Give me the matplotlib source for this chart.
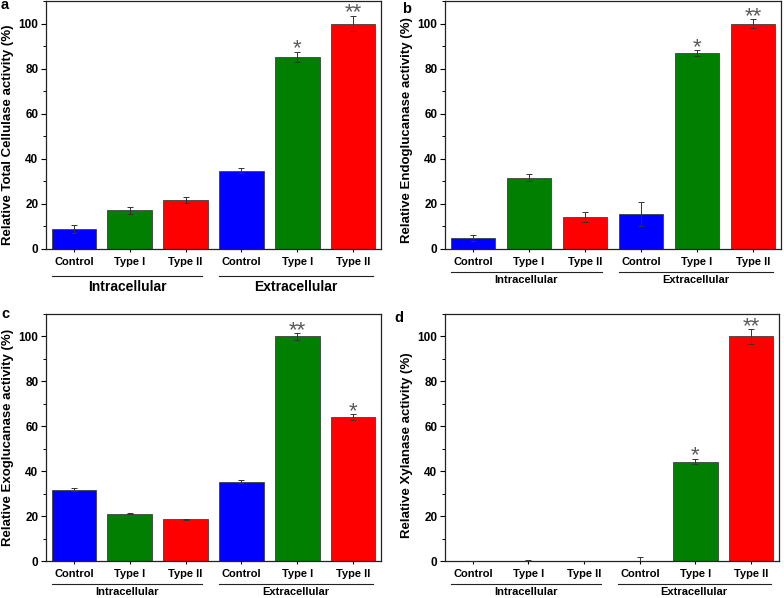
import matplotlib
matplotlib.use("Agg")
import matplotlib.pyplot as plt
from matplotlib.ticker import MultipleLocator
import matplotlib.transforms as mtrans

plt.rcParams['font.family'] = ['Liberation Sans', 'DejaVu Sans']
plt.rcParams['font.weight'] = 'bold'

categories = ["Control", "Type I", "Type II", "Control", "Type I", "Type II"]
groups = ["Intracellular", "Extracellular"]
colors = ["#0000FF", "#007F00", "#FF0000", "#0000FF", "#007F00", "#FF0000"]

total_vals = [8.9, 17.2, 21.8, 34.8, 85.3, 100.0]
total_err = [1.6, 1.5, 1.3, 1.1, 2.3, 3.5]
total_stars = ["", "", "", "", "*", "**"]

endo_vals = [4.7, 31.7, 14.2, 15.6, 86.8, 100.0]
endo_err = [1.3, 1.6, 2.4, 5.4, 1.3, 1.8]
endo_stars = ["", "", "", "", "*", "**"]

exo_vals = [31.8, 21.1, 18.6, 35.4, 100.0, 64.2]
exo_err = [0.5, 0.3, 0.2, 0.5, 1.5, 1.2]
exo_stars = ["", "", "", "", "**", "*"]

xyl_vals = [0.0, 0.2, 0.0, 0.0, 44.3, 100.0]
xyl_err = [0.2, 0.2, 0.0, 1.7, 1.2, 3.2]
xyl_stars = ["", "", "", "", "*", "**"]

# letter, ylabel, data, axes box (px l,t,r,b), group font, line offset, group label offset,
# ylabel centre (axes fraction), letter position (px x, baseline y)
panels = [
    ("a", "Relative Total Cellulase activity (%)", total_vals, total_err, total_stars,
     (46, 1, 381, 249), 10, 27, 38, 0.46, (1, 9)),
    ("b", "Relative Endoglucanase activity (%)", endo_vals, endo_err, endo_stars,
     (445, 1, 781, 249), 8, 23, 31, 0.48, (402, 13)),
    ("c", "Relative Exoglucanase activity (%)", exo_vals, exo_err, exo_stars,
     (46, 314, 381, 561), 8, 23, 31, 0.50, (1, 318)),
    ("d", "Relative Xylanase activity (%)", xyl_vals, xyl_err, xyl_stars,
     (445, 314, 779, 561), 8, 23, 31, 0.47, (394, 322)),
]

W, H = 784, 598
fig = plt.figure(figsize=(W / 100, H / 100), dpi=100)

for (letter, ylabel, vals, errs, stars, (l, t, r, b), gfs, line_off, glab_off,
     ylab_y, (lx, ly)) in panels:
    ax = fig.add_axes([l / W, (H - b) / H, (r - l) / W, (b - t) / H])
    x = list(range(len(categories)))
    ax.bar(x, vals, width=0.8, color=colors, edgecolor="#404040", linewidth=0.6, zorder=2)
    ax.errorbar(x, vals, yerr=errs, fmt="none", ecolor="#333333", elinewidth=0.7,
                capsize=2.5, capthick=0.7, zorder=3)
    for xi, v, e, s in zip(x, vals, errs, stars):
        if s:
            ax.annotate(s, xy=(xi, v + e), xytext=(0, -2.0), textcoords="offset points",
                        ha="center", va="baseline", fontsize=16, color="#5a5a5a",
                        fontweight="normal", annotation_clip=False)
    ax.set_xlim(-0.5, 5.5)
    ax.set_ylim(0, 110)
    ax.yaxis.set_major_locator(MultipleLocator(20))
    ax.yaxis.set_minor_locator(MultipleLocator(10))
    ax.set_yticks([0, 20, 40, 60, 80, 100])
    ax.set_xticks(x)
    ax.set_xticklabels(categories, fontsize=8, fontweight="bold")
    ax.tick_params(axis="y", which="major", direction="out", length=3.5, width=0.8, labelsize=8.5, pad=2)
    ax.tick_params(axis="y", which="minor", direction="out", length=2, width=0.7)
    ax.tick_params(axis="x", which="major", direction="out", length=2.5, width=0.8, pad=3)
    for lab in ax.get_yticklabels():
        lab.set_fontweight("bold")
    for sp in ax.spines.values():
        sp.set_linewidth(0.9)
        sp.set_color("#222222")
    ax.set_ylabel(ylabel, fontsize=9.5, fontweight="bold", labelpad=3)
    ax.yaxis.label.set_y(ylab_y)

    # group lines and labels
    trans_line = mtrans.blended_transform_factory(ax.transData, ax.transAxes) + \
        mtrans.ScaledTranslation(0, -line_off / 100, fig.dpi_scale_trans)
    trans_lab = mtrans.blended_transform_factory(ax.transData, ax.transAxes) + \
        mtrans.ScaledTranslation(0, -glab_off / 100, fig.dpi_scale_trans)
    for (x0, x1), g in zip([(-0.4, 2.3), (2.6, 5.35)], groups):
        ax.plot([x0, x1], [0, 0], color="#222222", linewidth=0.8, transform=trans_line, clip_on=False)
        ax.text((x0 + x1) / 2, 0, g, transform=trans_lab, ha="center", va="center",
                fontsize=gfs, fontweight="bold", clip_on=False)

    # panel letter
    fig.text(lx / W, (H - ly) / H, letter, fontsize=10.5, fontweight="bold",
             ha="left", va="baseline")

fig.savefig("out.png", dpi=100)
